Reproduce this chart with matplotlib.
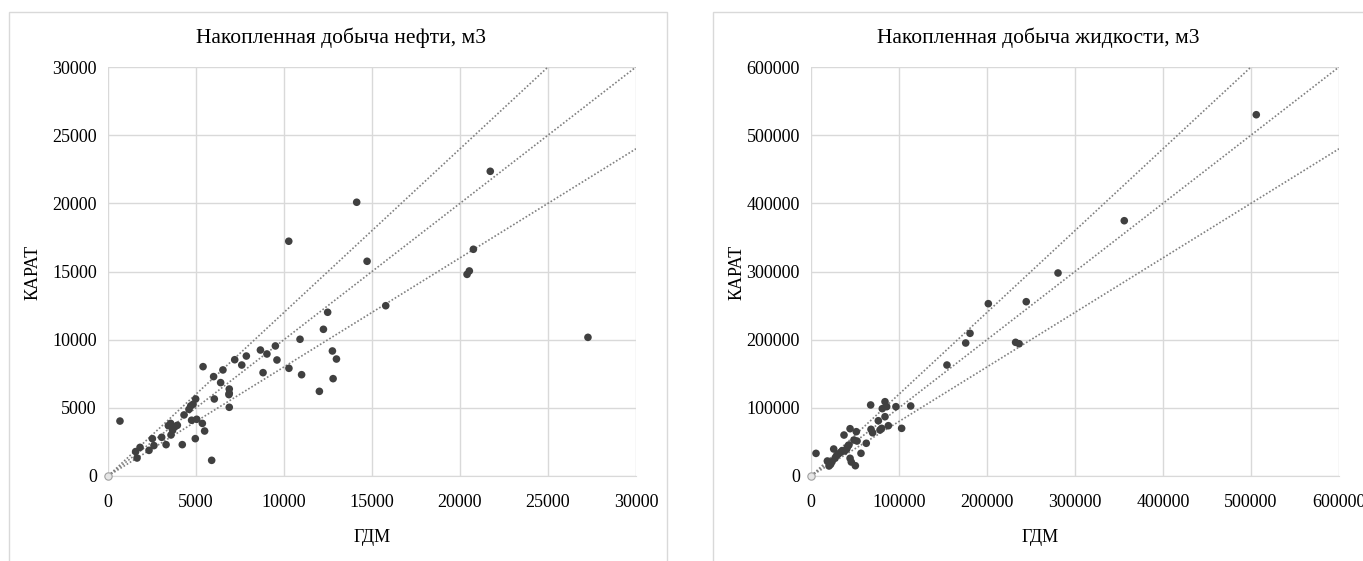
import numpy as np
import matplotlib
matplotlib.use("Agg")
import matplotlib.pyplot as plt
from matplotlib.patches import Rectangle

plt.rcParams['font.family'] = ['Liberation Serif', 'DejaVu Serif']

# --- данные: нефть ---
oil_gdm = [680, 1570, 1650, 1820, 2330, 2520, 2610, 3050, 3300, 3430, 3560, 3580,
           3670, 3810, 3940, 4220, 4320, 4600, 4700, 4830, 4750, 4960, 4980, 5040,
           5360, 5400, 5490, 5890, 6000, 6040, 6400, 6530, 6890, 6890, 6870, 6890,
           7200, 7600, 7860, 8660, 8810, 9030, 9510, 9600, 10280, 10910, 11000,
           12010, 12240, 12480, 12750, 12790, 12980, 10270, 14130, 14720, 15780,
           20400, 20530, 20760, 21720, 27270]
oil_karat = [4030, 1790, 1320, 2100, 1880, 2740, 2230, 2840, 2300, 3690, 3860, 3010,
             3350, 3620, 3720, 2300, 4480, 4890, 5140, 5260, 4090, 2740, 5650, 4160,
             3860, 8020, 3300, 1150, 7290, 5650, 6850, 7780, 6380, 6060, 5970, 5040,
             8530, 8140, 8800, 9240, 7580, 8950, 9540, 8510, 7900, 10030, 7430,
             6210, 10760, 12010, 9170, 7140, 8580, 17220, 20080, 15750, 12490,
             14790, 15040, 16630, 22350, 10170]

# --- данные: жидкость ---
liq_gdm = [5700, 18600, 20500, 22300, 23900, 25800, 27300, 29200, 31100, 33700,
           35500, 37500, 38300, 40600, 41700, 43100, 44400, 44400, 45800, 48800,
           50400, 51500, 52300, 56800, 62800, 67800, 68200, 70000, 76500, 78400,
           80300, 81000, 84100, 84100, 86000, 87900, 96500, 103000, 113300,
           154500, 175800, 180700, 201500, 232500, 236500, 244600, 280700,
           356000, 506000]
liq_karat = [33200, 22000, 14700, 17100, 21000, 39600, 26000, 30300, 32300, 34700,
             37200, 60100, 36700, 39600, 43500, 45500, 69400, 26000, 20500, 52800,
             15100, 65000, 51300, 33300, 48000, 104200, 68500, 63500, 81100, 67500,
             69900, 98800, 109000, 87000, 101700, 73800, 101700, 69900, 102700,
             162800, 195100, 209300, 252800, 196100, 194000, 255700, 297800,
             374500, 530000]

# линии отклонения +-20%
slopes = [1.2, 1.0, 0.8]

titles = ["Накопленная добыча нефти, м3", "Накопленная добыча жидкости, м3"]
limits = [30000, 600000]
steps = [5000, 100000]

W, H = 1363, 561
fig = plt.figure(figsize=(W / 100, H / 100), dpi=100)

grid_c = '#d9d9d9'
pt_c = '#404040'

# рамки диаграмм
for x0, x1 in [(9, 667), (713, 1370)]:
    fig.patches.append(Rectangle((x0 / W, -0.05), (x1 - x0) / W, (H - 12) / H + 0.05,
                                 transform=fig.transFigure, fill=False,
                                 edgecolor=grid_c, linewidth=1.0))

axes_left = [108, 811]
datasets = [(oil_gdm, oil_karat), (liq_gdm, liq_karat)]
title_x = [341, 1038]
ylab_x = [33, 737]
xlab_x = [372, 1040]

for i in range(2):
    ax = fig.add_axes([axes_left[i] / W, (H - 476) / H, 528 / W, 409 / H])
    lim = limits[i]
    ax.set_xlim(0, lim)
    ax.set_ylim(0, lim)
    ticks = np.arange(0, lim + 1, steps[i])
    ax.set_xticks(ticks)
    ax.set_yticks(ticks)
    ax.grid(True, color=grid_c, linewidth=1.0)
    ax.set_axisbelow(True)
    for s in ['top', 'right', 'left']:
        ax.spines[s].set_visible(False)
    ax.spines['bottom'].set_color(grid_c)
    ax.tick_params(length=0, labelsize=13)
    ax.tick_params(axis='x', pad=13)
    ax.tick_params(axis='y', pad=8)

    for k in slopes:
        ax.plot([0, lim], [0, k * lim], linestyle=(0, (1, 1.2)), color='#808080',
                linewidth=1.2, zorder=2)

    gx, gy = datasets[i]
    ax.scatter(gx, gy, s=30, color=pt_c, edgecolors='none', zorder=3, clip_on=False)
    ax.scatter([0], [0], s=28, facecolor='#e6e6e6', edgecolors='#a0a0a0',
               linewidths=0.8, zorder=4, clip_on=False)

    fig.text(title_x[i] / W, 1 - 38 / H, titles[i], fontsize=15.5, ha='center', va='center')
    fig.text(ylab_x[i] / W, 1 - 272 / H, "КАРАТ", fontsize=13, rotation=90,
             ha='center', va='center')
    fig.text(xlab_x[i] / W, 1 - 537 / H, "ГДМ", fontsize=13, ha='center', va='center')

fig.savefig("out.png", dpi=100)
